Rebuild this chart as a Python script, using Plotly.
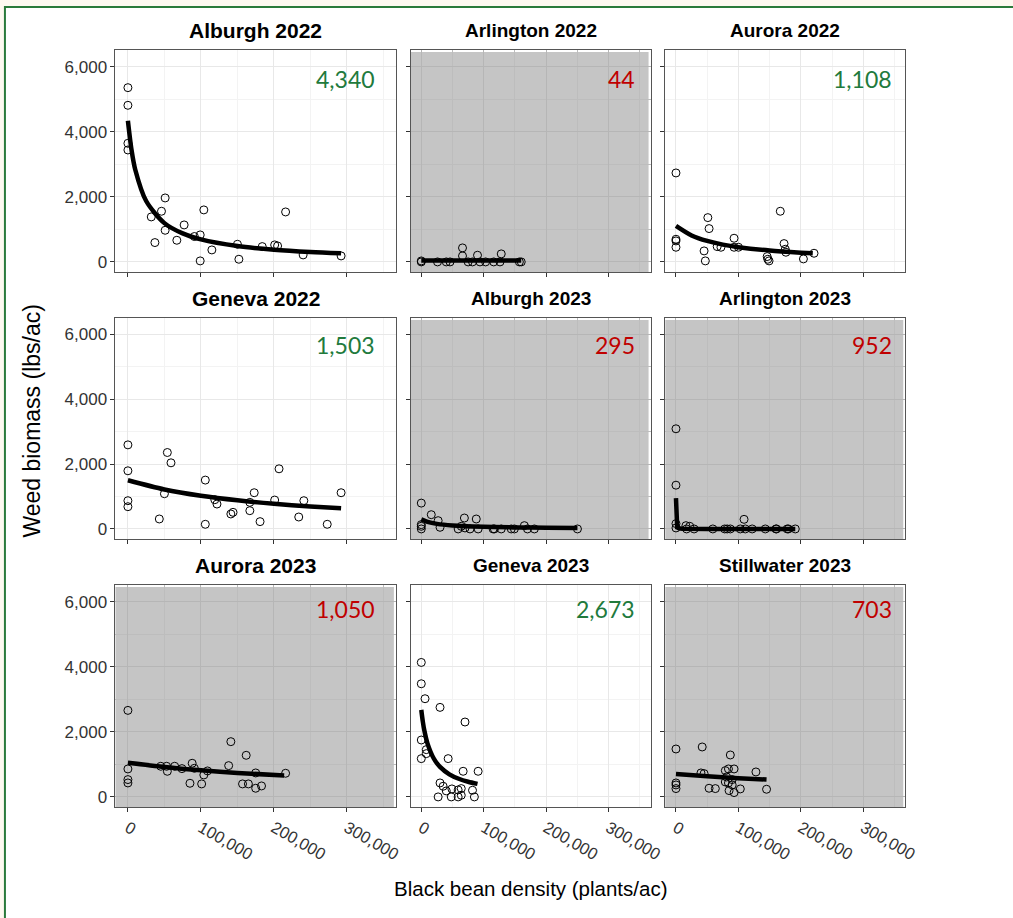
import plotly.graph_objects as go

# ---------------- data ----------------
panel_titles = ["Alburgh 2022", "Arlington 2022", "Aurora 2022",
                "Geneva 2022", "Alburgh 2023", "Arlington 2023",
                "Aurora 2023", "Geneva 2023", "Stillwater 2023"]
panel_labels = ["4,340", "44", "1,108", "1,503", "295", "952", "1,050", "2,673", "703"]
panel_good = [True, False, True, True, False, False, False, True, False]

x_tick_vals = [0, 100000, 200000, 300000]
x_tick_text = ["0", "100,000", "200,000", "300,000"]
y_tick_vals = [0, 2000, 4000, 6000]
y_tick_text = ["0", "2,000", "4,000", "6,000"]

alb22_x = [0, 0, 0, 0, 32000, 37000, 46000, 51000, 51000, 67000, 77000, 91000, 99000, 99000,
           104000, 115000, 150000, 152000, 184000, 201000, 205000, 216000, 240000, 292000]
alb22_y = [5353, 4811, 3644, 3439, 1382, 594, 1556, 1965, 972, 665, 1136, 780, 829, 31,
           1597, 368, 542, 82, 471, 522, 491, 1535, 215, 184]
alb22_fit_x = [0, 5000, 10000, 25000, 50000, 75000, 100000, 150000, 200000, 250000, 292000]
alb22_fit_y = [4340, 3434, 2840, 1871, 1192, 875, 691, 487, 375, 306, 266]

arl22_x = [0, 0, 26000, 40000, 46000, 66000, 66000, 75000, 82000, 90000, 94000, 103000,
           116000, 126000, 128000, 157000, 160000]
arl22_y = [0, 30, 0, 0, 0, 430, 184, 0, 0, 205, 0, 0, 0, 0, 246, 0, 0]
arl22_fit_x = [0, 40000, 80000, 120000, 160000]
arl22_fit_y = [44, 44, 43, 43, 42]

aur22_x = [0, 0, 0, 0, 51000, 53000, 45000, 47000, 66000, 72000, 93000, 93000, 100000,
           146000, 147000, 149000, 167000, 173000, 175000, 176000, 204000, 221000]
aur22_y = [2733, 696, 645, 450, 1361, 1024, 338, 31, 471, 450, 727, 450, 450,
           164, 82, 31, 1556, 563, 389, 297, 92, 266]
aur22_fit_x = [0, 25000, 50000, 75000, 100000, 150000, 200000, 219000]
aur22_fit_y = [1108, 814, 644, 531, 453, 350, 285, 266]

gen22_x = [0, 0, 0, 0, 43000, 50000, 54000, 59000, 106000, 106000, 119000, 122000, 141000,
           144000, 167000, 167000, 173000, 181000, 201000, 207000, 234000, 241000, 273000, 292000]
gen22_y = [2595, 1795, 872, 687, 308, 1087, 2359, 2041, 1508, 144, 903, 769, 462,
           513, 821, 564, 1118, 226, 892, 1856, 369, 872, 144, 1118]
gen22_fit_x = [0, 50000, 100000, 150000, 200000, 250000, 292000]
gen22_fit_y = [1503, 1219, 1025, 884, 777, 693, 636]

alb23_x = [0, 0, 0, 0, 16000, 27000, 30000, 59000, 64000, 69000, 70000, 78000, 88000, 91000,
           115000, 117000, 128000, 144000, 149000, 165000, 170000, 181000, 250000]
alb23_y = [798, 133, 82, 0, 440, 256, 51, 0, 82, 338, 31, 0, 307, 0,
           0, 0, 0, 0, 0, 102, 0, 0, 0]
alb23_fit_x = [0, 10000, 25000, 50000, 100000, 150000, 200000, 250000]
alb23_fit_y = [295, 219, 157, 107, 65, 47, 37, 30]

arl23_x = [0, 0, 0, 0, 16000, 17000, 22000, 29000, 59000, 78000, 82000, 87000, 103000,
           109000, 111000, 122000, 143000, 160000, 161000, 178000, 180000, 191000]
arl23_y = [3091, 1351, 164, 31, 102, 0, 82, 0, 0, 0, 0, 0, 0,
           297, 0, 0, 0, 0, 0, 0, 0, 0]
arl23_fit_x = [0, 200, 500, 1000, 2000, 5000, 10000, 50000, 100000, 191000]
arl23_fit_y = [952, 317, 159, 87, 45, 19, 9, 2, 1, 0]

aur23_x = [0, 0, 0, 0, 45000, 53000, 54000, 64000, 74000, 85000, 88000, 91000, 101000,
           104000, 109000, 138000, 141000, 157000, 162000, 165000, 175000, 175000, 183000, 216000]
aur23_y = [2658, 859, 532, 429, 941, 941, 787, 941, 869, 419, 1033, 879, 399,
           675, 798, 961, 1697, 399, 1278, 399, 736, 266, 337, 726]
aur23_fit_x = [0, 50000, 100000, 150000, 214000]
aur23_fit_y = [1050, 920, 818, 737, 654]

gen23_x = [0, 0, 6000, 0, 0, 8000, 8000, 30000, 43000, 30000, 35000, 40000, 27000, 48000,
           49000, 59000, 59000, 64000, 64000, 67000, 70000, 82000, 85000, 91000]
gen23_y = [4131, 3476, 3016, 1748, 1176, 1452, 1329, 2750, 1176, 429, 327, 184, 0, 0,
           245, 215, 0, 256, 51, 787, 2301, 204, 0, 787]
gen23_fit_x = [0, 2500, 5000, 10000, 20000, 30000, 45000, 60000, 75000, 90000]
gen23_fit_y = [2673, 2308, 2030, 1637, 1180, 922, 694, 557, 465, 399]

sti23_x = [0, 0, 0, 0, 42000, 40000, 45000, 53000, 63000, 79000, 81000, 79000, 84000, 84000,
           85000, 87000, 90000, 90000, 93000, 93000, 103000, 128000, 145000]
sti23_y = [1472, 429, 368, 256, 1534, 736, 716, 266, 256, 808, 613, 460, 859, 429,
           194, 1288, 532, 368, 859, 133, 245, 767, 235]
sti23_fit_x = [0, 50000, 100000, 145000]
sti23_fit_y = [703, 633, 576, 532]

points = [(alb22_x, alb22_y), (arl22_x, arl22_y), (aur22_x, aur22_y),
          (gen22_x, gen22_y), (alb23_x, alb23_y), (arl23_x, arl23_y),
          (aur23_x, aur23_y), (gen23_x, gen23_y), (sti23_x, sti23_y)]
fits = [(alb22_fit_x, alb22_fit_y), (arl22_fit_x, arl22_fit_y), (aur22_fit_x, aur22_fit_y),
        (gen22_fit_x, gen22_fit_y), (alb23_fit_x, alb23_fit_y), (arl23_fit_x, arl23_fit_y),
        (aur23_fit_x, aur23_fit_y), (gen23_fit_x, gen23_fit_y), (sti23_fit_x, sti23_fit_y)]

# ---------------- layout geometry ----------------
W, H = 1013, 918
col_px = [(117, 401), (416, 659), (674, 917)]
row_px = [(50, 272), (318, 539), (585, 807)]
title_y_px = [31, 298, 565]
label_y = [5620, 5690, 5775]
label_x = [341000, 346000, 349000]

GREEN = "#217a3c"
RED = "#c00000"
GRAY_BG = "#c5c5c5"
FONT = "Liberation Sans, Arial, sans-serif"

fig = go.Figure()
layout = dict(
    width=W, height=H,
    margin=dict(l=0, r=0, t=0, b=0),
    paper_bgcolor="#fdf9f0",
    plot_bgcolor="white",
    showlegend=False,
    font=dict(family=FONT, color="#333333"),
)
annotations = []
shapes = []

# outer frame (left and top edges visible)
shapes.append(dict(type="rect", xref="paper", yref="paper",
                   x0=5 / W, x1=1.05, y0=-0.05, y1=1 - 7 / H,
                   fillcolor="white", line=dict(color="#2a7a3b", width=2), layer="below"))

for i in range(9):
    r, c = divmod(i, 3)
    n = "" if i == 0 else str(i + 1)
    xa, ya = "x" + n, "y" + n
    (cx0, cx1), (ry0, ry1) = col_px[c], row_px[r]
    gray = not panel_good[i]
    major = "#b6b6b6" if gray else "#e8e8e8"
    minor = "#bdbdbd" if gray else "#f3f3f3"

    px, py = points[i]
    fx, fy = fits[i]
    fig.add_trace(go.Scatter(
        x=fx, y=fy, xaxis=xa, yaxis=ya, mode="lines",
        line=dict(color="black", width=4.5,
                  shape="linear" if i == 5 else "spline", smoothing=0.8),
        hoverinfo="skip"))
    fig.add_trace(go.Scatter(
        x=px, y=py, xaxis=xa, yaxis=ya, mode="markers",
        marker=dict(symbol="circle-open", size=8, color="black", line=dict(width=1))))

    layout["xaxis" + n] = dict(
        domain=[cx0 / W, cx1 / W], anchor=ya, range=[-17000, 367000],
        tickvals=x_tick_vals, ticktext=x_tick_text, showticklabels=(r == 2),
        tickangle=30, tickfont=dict(size=16.5, color="#333333"),
        ticks="outside", ticklen=4, tickcolor="#333333", tickwidth=1,
        showgrid=True, gridcolor=major, gridwidth=1.3, zeroline=False,
        showline=True, mirror=True, linecolor="#555555", linewidth=1,
        minor=dict(tickvals=[50000, 150000, 250000, 350000], showgrid=True,
                   gridcolor=minor, gridwidth=0.8, ticks=""),
    )
    layout["yaxis" + n] = dict(
        domain=[1 - ry1 / H, 1 - ry0 / H], anchor=xa, range=[-310, 6510],
        tickvals=y_tick_vals, ticktext=y_tick_text, showticklabels=(c == 0),
        tickfont=dict(size=17, color="#333333"),
        ticks="outside", ticklen=4, tickcolor="#333333", tickwidth=1,
        showgrid=True, gridcolor=major, gridwidth=1.3, zeroline=False,
        showline=True, mirror=True, linecolor="#555555", linewidth=1,
        minor=dict(tickvals=[1000, 3000, 5000], showgrid=True,
                   gridcolor=minor, gridwidth=0.8, ticks=""),
    )

    if gray:
        wpx, hpx = cx1 - cx0, ry1 - ry0
        shapes.append(dict(type="rect", xref=xa + " domain", yref=ya + " domain",
                           x0=0, x1=1 - 2 / wpx, y0=0, y1=1 - 2 / hpx,
                           fillcolor=GRAY_BG, line=dict(width=0), layer="below"))

    # facet title
    annotations.append(dict(
        xref="paper", yref="paper", x=(cx0 + cx1) / 2 / W, y=1 - title_y_px[r] / H,
        text="<b>" + panel_titles[i] + "</b>", showarrow=False,
        xanchor="center", yanchor="middle",
        font=dict(family=FONT, size=21 if c == 0 else 19, color="black")))
    # value label
    annotations.append(dict(
        xref=xa, yref=ya, x=label_x[c], y=label_y[r], text=panel_labels[i],
        showarrow=False, xanchor="right", yanchor="middle",
        font=dict(family="Lato, Open Sans, sans-serif", size=23,
                  color=GREEN if panel_good[i] else RED)))

annotations.append(dict(
    xref="paper", yref="paper", x=32 / W, y=1 - 421 / H, text="Weed biomass (lbs/ac)",
    textangle=-90, showarrow=False, xanchor="center", yanchor="middle",
    font=dict(family=FONT, size=23, color="black")))
annotations.append(dict(
    xref="paper", yref="paper", x=537 / W, y=1 - 888 / H, text="Black bean density (plants/ac)",
    showarrow=False, xanchor="center", yanchor="middle",
    font=dict(family=FONT, size=20.5, color="black")))

layout["annotations"] = annotations
layout["shapes"] = shapes
fig.update_layout(**layout)
fig.write_html("out.html")
